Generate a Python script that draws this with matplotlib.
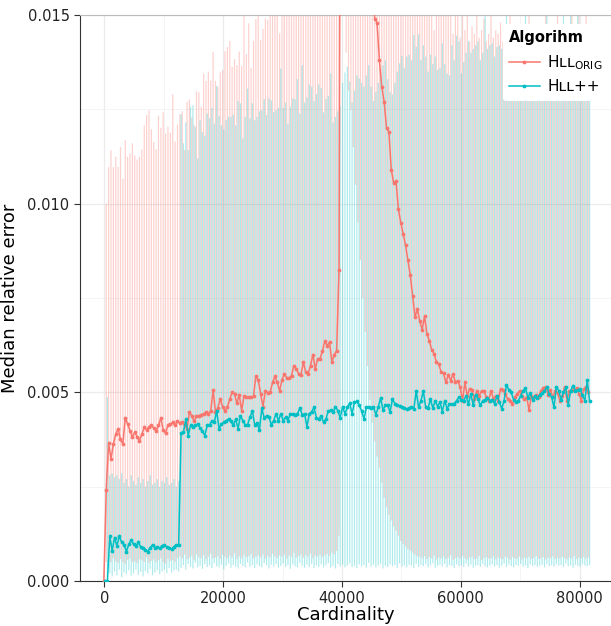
import numpy as np
import matplotlib
matplotlib.use("Agg")
import matplotlib.pyplot as plt

# cardinality grid (one point every 400)
cardinality = list(range(0, 81601, 400))

# all error values below are in per-mille (x 1e-3)
orig_med = [0, 2.41,
    3.65, 3.23, 3.63, 3.89, 4.03, 3.75, 3.63, 4.32, 4.16, 3.98,
    3.82, 3.94, 3.82, 3.72, 3.89, 4.07, 4.0, 4.09, 4.12, 4.05,
    3.98, 4.12, 4.32, 4.0, 3.91, 4.14, 4.16, 4.2, 4.12, 4.25,
    4.18, 4.2, 4.12, 4.03, 4.47, 4.38, 4.23, 4.38, 4.38, 4.41,
    4.43, 4.47, 4.43, 4.51, 5.06, 4.47, 4.59, 4.82, 4.62, 4.51,
    4.6, 4.82, 5.0, 4.96, 4.71, 4.94, 4.51, 4.9, 4.88, 4.87,
    4.88, 4.89, 5.44, 5.33, 4.96, 4.62, 5.04, 4.99, 5.0, 5.26,
    5.42, 5.26, 5.04, 5.33, 5.49, 5.38, 5.38, 5.44, 5.71, 5.62,
    5.49, 5.47, 5.80, 5.53, 5.49, 5.71, 6.0, 5.62, 5.89, 5.89,
    6.09, 6.35, 6.24, 6.33, 5.80, 6.0,
    6.1, 8.25,
    30, 40, 45, 42, 38, 35, 32, 29, 27, 25, 23, 21, 19, 16.5,
    14.9, 14.8, 13.8, 13.1, 12.7, 12.0, 11.9, 10.9, 10.55, 10.6,
    9.85, 9.5, 9.2, 8.9, 8.5, 8.1, 7.55, 7.0, 7.2, 6.88,
    6.66, 7.02, 6.55, 6.37, 6.13, 6.02, 5.80, 5.75, 5.53, 5.50,
    5.26, 5.47, 5.31, 5.49, 5.26, 5.31, 5.13, 4.78, 5.26, 4.91,
    5.1, 5.06, 4.82, 5.04, 4.91, 5.04, 5.03, 4.87, 4.78, 5.04,
    4.82, 4.91, 4.78, 5.09, 5.06, 4.96, 4.82, 4.78, 4.69, 4.87,
    4.96, 5.04, 4.91, 4.82, 4.87, 4.53, 4.91, 4.87, 4.94, 4.87,
    5.04, 5.12, 5.15, 4.94, 5.06, 4.87, 5.04, 4.97, 4.78, 4.91,
    5.15, 4.78, 5.03, 5.06, 5.06, 5.12, 4.96, 4.78, 5.09, 5.15,
    5.0]

orig_low = [0, 0.5,
    0.55, 0.5, 0.6, 0.52, 0.48, 0.58, 0.5, 0.45, 0.55, 0.6,
    0.5, 0.52, 0.47, 0.58, 0.55, 0.5, 0.62, 0.48, 0.53, 0.57,
    0.5, 0.55, 0.6, 0.5, 0.46, 0.58, 0.52, 0.55, 0.5, 0.6,
    0.65, 0.6, 0.7, 0.58, 0.62, 0.66, 0.55, 0.7, 0.63, 0.6,
    0.68, 0.57, 0.64, 0.72, 0.6, 0.62, 0.66, 0.58, 0.7, 0.64,
    0.6, 0.67, 0.62, 0.73, 0.58, 0.65, 0.6, 0.69, 0.63, 0.66,
    0.71, 0.6, 0.64, 0.68, 0.62, 0.7, 0.59, 0.66, 0.63, 0.72,
    0.65, 0.61, 0.68, 0.64, 0.7, 0.6, 0.67, 0.63, 0.74, 0.62,
    0.66, 0.7, 0.61, 0.68, 0.64, 0.72, 0.6, 0.67, 0.65, 0.7,
    0.63, 0.68, 0.72, 0.66, 0.75, 0.7, 0.8, 1.2,
    25, 16, 14, 13, 12.5, 11.5, 10.5, 9.5, 8.5, 7.5, 6.6, 5.7, 4.8,
    4.2, 3.7, 3.3, 3.0, 2.6, 2.2, 1.95, 1.75, 1.6, 1.45, 1.33, 1.2,
    1.06, 0.98, 0.92, 0.85, 0.8, 0.75, 0.7, 0.66,
    0.64, 0.6, 0.66, 0.58, 0.63, 0.6, 0.67, 0.57, 0.62, 0.6,
    0.65, 0.58, 0.61, 0.68, 0.56, 0.6, 0.63, 0.59, 0.66, 0.6,
    0.57, 0.62, 0.64, 0.58, 0.6, 0.66, 0.55, 0.61, 0.63, 0.59,
    0.6, 0.65, 0.57, 0.62, 0.6, 0.58, 0.64, 0.61, 0.56, 0.63,
    0.6, 0.59, 0.65, 0.57, 0.62, 0.6, 0.64, 0.58, 0.61, 0.66,
    0.59, 0.6, 0.63, 0.57, 0.62, 0.6, 0.65, 0.58, 0.61, 0.59,
    0.64, 0.6, 0.57, 0.62, 0.6, 0.66, 0.58, 0.61, 0.6, 0.63,
    0.59, 0.62]

orig_high = [0, 10.0,
    10.97, 11.42, 10.97, 11.24, 10.97, 11.5, 10.66, 11.68, 11.24, 11.33,
    11.6, 11.28, 11.17, 11.24, 11.44, 12.08, 12.35, 12.48, 11.97, 11.64,
    11.44, 12.33, 12.01, 12.42, 11.86, 12.04, 11.88, 12.9, 11.65, 12.1,
    12.37, 12.45, 11.42, 12.7, 12.76, 12.28, 12.08, 12.98, 12.95, 12.57,
    13.45, 13.25, 13.5, 13.27, 14.03, 13.25, 13.1, 13.48, 13.54, 14.04,
    14.15, 14.31, 13.63, 13.83, 13.67, 14.03, 13.65, 16.2, 13.96, 14.78,
    13.6, 14.31, 14.89, 16.5, 14.34, 14.63, 14.91, 14.87,
    16.8, 17.2, 16.4, 17.0, 14.51, 17.5, 16.9, 17.3, 18.0, 17.1,
    16.6, 17.8, 18.2, 17.4, 16.9, 18.5, 17.7, 18.1, 17.0, 18.6,
    17.9, 18.3, 17.5, 18.8, 18.0, 17.6, 19.0, 18.4, 17.9, 20.0,
    40, 50, 55, 52, 48, 45, 42, 40, 38, 36, 34, 32, 30, 28,
    27, 26, 25, 24, 23.5, 23, 22, 21.5, 21, 20.5,
    20, 19.6, 19.2, 18.8, 18.5, 18.2, 18.0, 17.8, 17.6, 17.5,
    17.3, 17.2, 17.0, 16.9, 16.8, 14.6, 16.6, 16.5, 16.4, 16.3,
    16.2, 15.8,
    15.6, 14.5, 15.4, 15.3, 14.4, 15.2, 14.6, 15.1, 14.3, 14.7,
    14.5, 15.1, 14.4, 14.6, 14.9, 14.3, 14.5, 15.2, 14.4, 14.6,
    14.5, 14.8, 14.3, 14.6, 14.4, 15.1, 14.5, 14.4, 14.7, 14.3,
    14.6, 14.5, 14.4, 15.2, 14.3, 14.6, 14.5, 14.4, 14.7, 14.5,
    15.1, 14.4, 14.6, 14.3, 14.5, 15.3, 14.4, 14.6, 14.5, 14.4,
    14.7, 15.2, 14.3, 14.5, 15.1, 14.6, 14.4, 15.2, 14.5]

pp_med = [0, 0.0,
    1.19, 0.80, 1.15, 0.93, 1.19, 1.02, 0.96, 0.78, 0.97, 1.08,
    0.97, 0.93, 1.02, 0.90, 0.87, 0.82, 0.78, 0.88, 0.96, 0.88,
    0.90, 0.87, 0.93, 0.96, 0.90, 0.87, 0.84, 0.90, 0.96, 0.95,
    3.91, 3.94, 4.29, 3.85, 4.12, 4.07, 4.12, 4.16, 4.05, 3.98,
    3.85, 4.12, 4.14, 4.25, 4.2, 4.51, 4.03,
    4.16, 4.2, 4.25, 4.29, 4.23, 4.12, 4.29, 4.03, 4.38, 4.25,
    4.14, 4.14, 4.34, 4.51, 4.14, 4.18, 4.0, 4.58, 4.32, 4.38,
    4.34, 4.14, 4.25, 4.43, 4.25, 4.43, 4.25, 4.34, 4.25, 4.43,
    4.43, 4.41, 4.43, 4.58, 4.41, 4.43, 4.09, 4.43, 4.49, 4.6,
    4.32, 4.29, 4.38, 4.2, 4.29, 4.51, 4.52, 4.47, 4.62, 4.51,
    4.32, 4.62, 4.43, 4.6, 4.71,
    4.43, 4.73, 4.76, 4.65, 4.51, 4.29, 4.6, 4.6, 4.58, 4.62,
    4.41, 4.6, 4.85, 4.53, 4.65, 4.66, 4.47, 4.82, 4.7, 4.66,
    4.64, 4.6, 4.58, 4.56, 4.58, 4.62, 4.56, 5.04, 4.6, 4.78,
    5.03, 4.6, 4.58, 4.82, 4.58, 4.78, 4.62, 4.74, 4.49, 4.78,
    4.56, 4.7, 4.68, 4.7, 4.78, 4.87, 4.8, 4.78, 4.91, 4.69,
    4.96, 4.65, 4.94, 4.82, 4.65, 4.78, 4.8, 4.85, 4.78, 4.8,
    4.7, 4.91, 4.75, 4.56, 4.78, 5.2, 5.06, 5.0, 4.8, 4.74,
    4.78, 4.91, 5.04, 5.12, 4.86, 4.98, 4.8, 4.91, 4.85, 4.94,
    4.98, 5.04, 5.15, 4.95, 4.87, 4.6, 5.15, 5.04, 4.8, 5.0,
    5.13, 4.67, 5.04, 5.18, 5.04, 5.06, 5.08, 4.92, 4.78, 5.33, 4.76]

pp_low = [0, 0.1,
    0.2, 0.12, 0.25, 0.15, 0.3, 0.1, 0.22, 0.18, 0.28, 0.14,
    0.2, 0.3, 0.16, 0.24, 0.12, 0.26, 0.2, 0.32, 0.15, 0.22,
    0.28, 0.18, 0.25, 0.3, 0.2, 0.34, 0.22, 0.28, 0.3, 0.25,
    0.35, 0.42, 0.3, 0.45, 0.38, 0.33, 0.48, 0.36, 0.4, 0.32,
    0.44, 0.37, 0.41, 0.34, 0.47, 0.39, 0.36, 0.43, 0.31, 0.4,
    0.46, 0.35, 0.42, 0.38, 0.33, 0.45, 0.4, 0.36, 0.49, 0.37,
    0.42, 0.34, 0.44, 0.39, 0.36, 0.47, 0.41, 0.33, 0.43, 0.38,
    0.45, 0.35, 0.4, 0.46, 0.37, 0.42, 0.32, 0.44, 0.39, 0.36,
    0.48, 0.4, 0.35, 0.43, 0.38, 0.45, 0.34, 0.41, 0.37, 0.44,
    0.36, 0.42, 0.47, 0.35, 0.4, 0.33, 0.45, 0.38, 0.43, 0.36,
    0.41, 0.46, 0.37, 0.4, 0.34, 0.44, 0.39, 0.42, 0.35, 0.48,
    0.38, 0.43, 0.36, 0.41, 0.45, 0.33, 0.4, 0.37, 0.44, 0.39,
    0.42, 0.35, 0.46, 0.38, 0.41, 0.36, 0.43, 0.4, 0.34, 0.45,
    0.37, 0.42, 0.39, 0.44, 0.36, 0.41, 0.47, 0.35, 0.4, 0.43,
    0.38, 0.45, 0.36, 0.42, 0.4, 0.34, 0.44, 0.39, 0.41, 0.37,
    0.46, 0.38, 0.43, 0.35, 0.4, 0.42, 0.37, 0.45, 0.39, 0.36,
    0.41, 0.44, 0.38, 0.42, 0.35, 0.4, 0.46, 0.37, 0.43, 0.39,
    0.36, 0.42, 0.4, 0.45, 0.38, 0.41, 0.34, 0.44, 0.39, 0.42,
    0.37, 0.4, 0.43, 0.36, 0.45, 0.39, 0.41, 0.38, 0.44, 0.4,
    0.42, 0.37, 0.46, 0.39, 0.41, 0.35, 0.43, 0.4, 0.38, 0.44,
    0.41, 0.39, 0.42]

pp_high = [0, 4.87,
    2.8, 2.85, 2.75, 2.8, 2.7, 2.85, 2.6, 2.7, 2.5, 2.8,
    2.65, 2.55, 2.75, 2.6, 2.7, 2.5, 2.65, 2.8, 2.55, 2.6,
    2.7, 2.5, 2.65, 2.6, 2.75, 2.55, 2.6, 2.7, 2.5, 2.65,
    12.37, 11.6, 12.15, 11.42, 12.57, 12.61, 12.03, 11.2, 12.21, 11.9,
    11.8, 12.39, 12.27, 12.54, 12.12, 13.12, 12.33, 12.08, 11.97, 12.21,
    12.3, 12.3, 12.36, 12.08, 12.72, 12.66, 11.73, 12.3, 13.05, 12.26,
    12.66, 12.21, 12.3, 12.45, 12.48, 12.77, 12.35, 12.79, 12.74, 12.43,
    12.48, 12.54, 13.58, 12.54, 12.68, 12.12, 12.57, 12.79, 12.77, 13.3,
    12.39, 13.67, 12.68, 12.81, 13.16, 13.1, 12.72, 12.91, 13.16, 13.07,
    12.42, 12.77, 12.86, 13.45, 12.15, 12.3, 12.45, 12.6,
    13.2, 13.48, 13.63, 13.23, 12.68, 13.0, 13.4, 13.32, 13.2, 13.1,
    13.4, 13.67, 13.1, 12.72,
    12.96, 13.2, 13.4, 13.67, 13.8, 13.3, 12.96, 12.9, 13.2, 13.5,
    13.72, 13.92, 13.6, 13.9, 13.95, 13.8, 14.47, 14.16, 14.49, 13.8,
    14.2, 13.9, 13.5, 13.95, 13.7, 13.9, 13.55, 13.6, 14.25, 13.7,
    13.45, 13.4,
    14.2, 13.8, 14.45, 14.3, 13.45, 13.75, 14.0, 14.3, 14.0, 14.1,
    14.2, 14.3, 13.8, 14.0, 15.3, 14.1, 14.2, 14.25, 13.9, 14.15,
    14.2, 14.1, 14.0, 15.2, 14.25, 14.1, 14.2, 14.0, 14.15, 14.3,
    14.1, 15.4, 14.2, 14.0, 14.15, 14.2, 14.1, 14.3, 14.0, 14.2,
    15.1, 14.1, 14.2, 14.0, 14.25, 14.15, 14.1, 15.3, 14.2, 14.1,
    15.2, 14.3, 14.0, 15.1, 14.2, 14.1, 14.3, 14.2, 14.1]

RED = "#F8766D"
TEAL = "#00BFC4"

x = np.array(cardinality)
series = [
    ("Hʟʟ$_{\\mathregular{ORIG}}$", RED, -100, 0.34, orig_med, orig_low, orig_high),
    ("Hʟʟ++", TEAL, 100, 0.32, pp_med, pp_low, pp_high),
]

fig = plt.figure(figsize=(6.11, 6.26), dpi=100)
ax = fig.add_axes([0.131, 0.072, 0.869, 0.904])

# error bars first, then the median lines on top
for label, col, dodge, a, med, low, high in series:
    bars = ax.vlines(x + dodge, np.array(low) / 1000, np.array(high) / 1000,
                     colors=col, alpha=a, linewidth=0.85, zorder=2)
    bars.set_snap(False)

for label, col, dodge, a, med, low, high in series:
    ax.plot(x + dodge, np.array(med) / 1000, color=col, lw=1.1,
            marker="o", ms=1.7, label=label, zorder=3)

ax.set_xlim(-4110, 85300)
ax.set_ylim(0, 0.015)
ax.set_xticks([0, 20000, 40000, 60000, 80000])
ax.set_xticks([10000, 30000, 50000, 70000], minor=True)
ax.set_yticks([0, 0.005, 0.010, 0.015])
ax.set_yticks([0.0025, 0.0075, 0.0125], minor=True)
ax.set_yticklabels(["0.000", "0.005", "0.010", "0.015"])
ax.tick_params(which="major", labelsize=10.5, length=4, color="#333333",
               labelcolor="#222222")
ax.tick_params(which="minor", length=0)
ax.grid(which="major", color="#ebebeb", lw=0.9, zorder=0)
ax.grid(which="minor", color="#f2f2f2", lw=0.6, zorder=0)
ax.set_axisbelow(True)

ax.spines["right"].set_visible(False)
ax.spines["top"].set_color("#bbbbbb")
ax.spines["top"].set_linewidth(0.8)
ax.spines["left"].set_color("#333333")
ax.spines["bottom"].set_color("#333333")

ax.set_xlabel("Cardinality", fontsize=13, labelpad=0)
ax.set_ylabel("Median relative error", fontsize=13, labelpad=6)

leg = ax.legend(title="Algorihm", loc="upper left", bbox_to_anchor=(0.782, 0.997),
                fontsize=11, title_fontproperties={"weight": "bold", "size": 10.5},
                frameon=True, facecolor="white", edgecolor="white", framealpha=1,
                handlelength=2.0, borderpad=0.4, labelspacing=0.5, handletextpad=0.5)
leg.set_alignment("left")
leg.get_frame().set_linewidth(0)

fig.savefig("out.png", dpi=100)
